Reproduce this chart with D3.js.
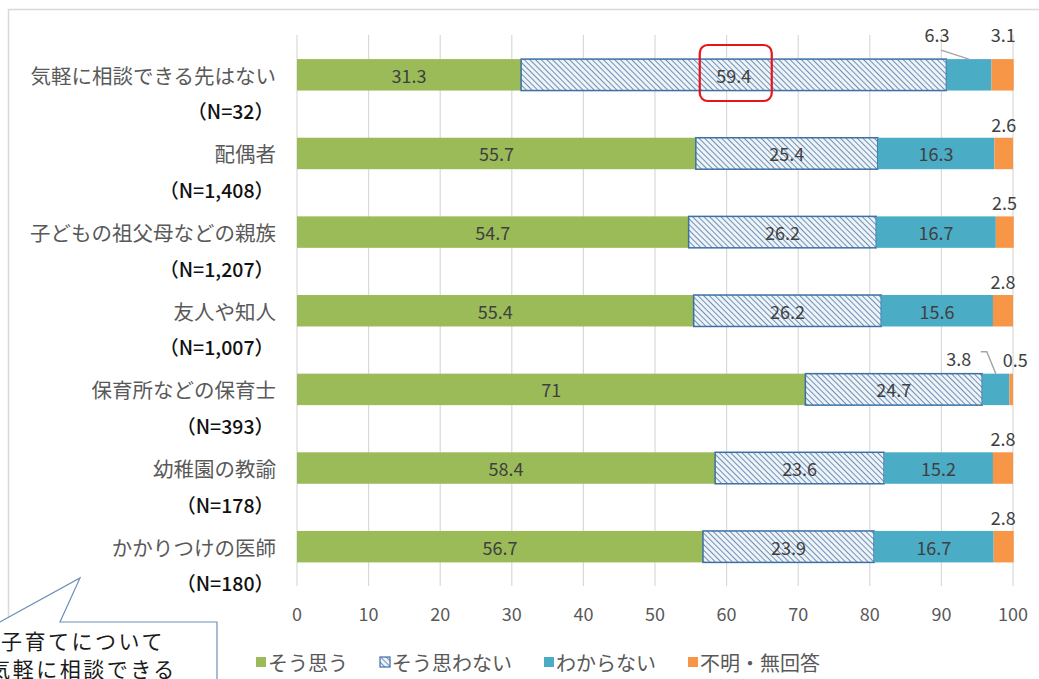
<!DOCTYPE html>
<html>
<head>
<meta charset="utf-8">
<script src="https://cdn.jsdelivr.net/npm/d3@7"></script>
<style>
  body { margin: 0; background: #fff; }
  svg { display: block; font-family: "Noto Sans CJK JP", "Noto Sans", sans-serif; }
</style>
</head>
<body>
<div class="container"></div>
<script>
// chart data
var categories = ["気軽に相談できる先はない", "配偶者", "子どもの祖父母などの親族", "友人や知人", "保育所などの保育士", "幼稚園の教諭", "かかりつけの医師"];
var counts = ["（N=32）", "（N=1,408）", "（N=1,207）", "（N=1,007）", "（N=393）", "（N=178）", "（N=180）"];
var seriesNames = ["そう思う", "そう思わない", "わからない", "不明・無回答"];
var agree    = [31.3, 55.7, 54.7, 55.4, 71, 58.4, 56.7];
var disagree = [59.4, 25.4, 26.2, 26.2, 24.7, 23.6, 23.9];
var unknown  = [6.3, 16.3, 16.7, 15.6, 3.8, 15.2, 16.7];
var noAnswer = [3.1, 2.6, 2.5, 2.8, 0.5, 2.8, 2.8];
var ticks = [0, 10, 20, 30, 40, 50, 60, 70, 80, 90, 100];

var colors = ["#9bbb59", "url(#hatch)", "#4bacc6", "#f79646"];

var W = 1039, H = 679;
var svg = d3.select(".container").append("svg")
  .attr("width", W).attr("height", H);

// hatch pattern for そう思わない
var defs = svg.append("defs");
var pat = defs.append("pattern")
  .attr("id", "hatch")
  .attr("patternUnits", "userSpaceOnUse")
  .attr("width", 4).attr("height", 4)
  .attr("patternTransform", "rotate(-45)");
pat.append("rect").attr("width", 4).attr("height", 4).attr("fill", "#eef3f8");
pat.append("line")
  .attr("x1", 0).attr("y1", 0).attr("x2", 0).attr("y2", 4)
  .attr("stroke", "#5f86b0").attr("stroke-width", 1.8);

// outer frame
svg.append("rect")
  .attr("x", 8.5).attr("y", 9.5)
  .attr("width", 1100).attr("height", 700)
  .attr("fill", "none")
  .attr("stroke", "#d9d9d9")
  .attr("stroke-width", 1.5);

var x = d3.scaleLinear().domain([0, 100]).range([297, 1013]);
var y = d3.scaleBand().domain(categories).range([35.5, 586])
  .paddingInner(0.6).paddingOuter(0.3);

// gridlines
svg.append("g").selectAll("line")
  .data(ticks).enter().append("line")
  .attr("x1", d => x(d)).attr("x2", d => x(d))
  .attr("y1", 35).attr("y2", 586)
  .attr("stroke", "#d9d9d9").attr("stroke-width", 1.2);

// tick labels
svg.append("g").selectAll("text")
  .data(ticks).enter().append("text")
  .attr("x", d => x(d)).attr("y", 613)
  .attr("text-anchor", "middle")
  .attr("dominant-baseline", "central")
  .attr("fill", "#595959")
  .style("font-size", "18px")
  .text(d => d);

// stack
var rows = categories.map((c, i) => ({
  cat: c, vals: [agree[i], disagree[i], unknown[i], noAnswer[i]]
}));
var segs = [];
rows.forEach((r, i) => {
  var acc = 0;
  r.vals.forEach((v, k) => {
    segs.push({ row: i, cat: r.cat, k: k, v: v, x0: acc, x1: acc + v });
    acc += v;
  });
});

svg.append("g").selectAll("rect")
  .data(segs).enter().append("rect")
  .attr("x", d => x(d.x0))
  .attr("y", d => y(d.cat))
  .attr("width", d => Math.min(x(d.x1), x(100.1)) - x(d.x0))
  .attr("height", y.bandwidth())
  .attr("fill", d => colors[d.k])
  .attr("stroke", d => d.k === 1 ? "#3d6fa5" : "none")
  .attr("stroke-width", 1.5);

// label nudges for small segments (row-series)
var nudge = {
  "0-2": { dx: -32, dy: -25, leader: "line" },
  "0-3": { dx: 1, dy: -25 },
  "4-2": { dx: -37, dy: -16, leader: "elbow" },
  "4-3": { dx: 4, dy: -15 }
};

segs.forEach(d => {
  var cx = (x(d.x0) + Math.min(x(d.x1), x(100))) / 2;
  var top = y(d.cat);
  var cy = top + y.bandwidth() / 2;
  if (d.v >= 10) {
    svg.append("text")
      .attr("x", cx).attr("y", cy)
      .attr("text-anchor", "middle")
      .attr("dominant-baseline", "central")
      .attr("fill", "#404040")
      .style("font-size", "18px")
      .text(d.v);
  } else {
    var n = nudge[d.row + "-" + d.k] || { dx: 0, dy: -14 };
    var lx = cx + n.dx, ly = top + n.dy;
    if (n.leader === "line") {
      svg.append("line")
        .attr("x1", lx + 4).attr("y1", ly + 16)
        .attr("x2", cx).attr("y2", top)
        .attr("stroke", "#a6a6a6").attr("stroke-width", 1.5);
    } else if (n.leader === "elbow") {
      svg.append("path")
        .attr("d", "M" + (lx + 22) + "," + (ly - 6) + "H" + (lx + 28) + "L" + cx + "," + top)
        .attr("fill", "none")
        .attr("stroke", "#a6a6a6").attr("stroke-width", 1.5);
    }
    svg.append("text")
      .attr("x", lx).attr("y", ly)
      .attr("text-anchor", "middle")
      .attr("dominant-baseline", "central")
      .attr("fill", "#404040")
      .style("font-size", "18px")
      .text(d.v);
  }
});

// category labels
var lab = svg.append("g");
categories.forEach((c, i) => {
  var cy = y(c) + y.bandwidth() / 2;
  lab.append("text")
    .attr("x", 276).attr("y", cy)
    .attr("text-anchor", "end")
    .attr("dominant-baseline", "central")
    .attr("fill", "#595959")
    .style("font-size", "20.5px")
    .text(c);
  lab.append("text")
    .attr("x", 274).attr("y", cy + 36)
    .attr("text-anchor", "end")
    .attr("dominant-baseline", "central")
    .attr("fill", "#111")
    .style("font-size", "19.5px")
    .style("font-weight", "500")
    .text(counts[i]);
});

// highlight box around 59.4
var hx = (x(agree[0]) + x(agree[0] + disagree[0])) / 2;
svg.append("rect")
  .attr("x", hx - 34).attr("y", 45)
  .attr("width", 72).attr("height", 56)
  .attr("rx", 8)
  .attr("fill", "none")
  .attr("stroke", "#e8141c")
  .attr("stroke-width", 2.2);

// legend
var legX = [256, 380, 544, 688];
var leg = svg.append("g");
seriesNames.forEach((s, k) => {
  leg.append("rect")
    .attr("x", legX[k]).attr("y", 657)
    .attr("width", 10).attr("height", 10)
    .attr("fill", colors[k])
    .attr("stroke", k === 1 ? "#3d6fa5" : "none")
    .attr("stroke-width", 1.2);
  leg.append("text")
    .attr("x", legX[k] + 12).attr("y", 662)
    .attr("dominant-baseline", "central")
    .attr("fill", "#595959")
    .style("font-size", "20px")
    .text(s);
});

// callout (cut off by the picture edge, as in the original)
svg.append("path")
  .attr("d", "M-5,707 V622 H0 L80,578 L60,622 H217 V707 Z")
  .attr("fill", "#fff")
  .attr("stroke", "#6f8fb5")
  .attr("stroke-width", 1.2);
svg.append("text")
  .attr("x", 83).attr("y", 640)
  .attr("text-anchor", "middle")
  .attr("dominant-baseline", "central")
  .attr("fill", "#1a1a1a")
  .style("font-size", "21px")
  .style("letter-spacing", "2.5px")
  .text("子育てについて");
svg.append("text")
  .attr("x", 83).attr("y", 668)
  .attr("text-anchor", "middle")
  .attr("dominant-baseline", "central")
  .attr("fill", "#1a1a1a")
  .style("font-size", "21px")
  .style("letter-spacing", "2.5px")
  .text("気軽に相談できる");
</script>
</body>
</html>
